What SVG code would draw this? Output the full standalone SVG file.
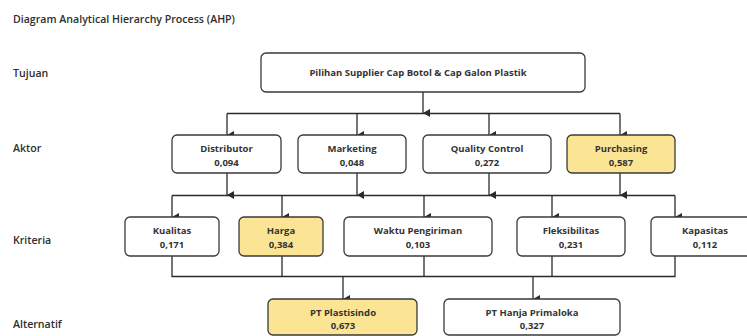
<svg xmlns="http://www.w3.org/2000/svg" width="747" height="336" viewBox="0 0 747 336">
<defs>
<marker id="ah" markerUnits="userSpaceOnUse" markerWidth="8" markerHeight="8" viewBox="0 0 8 8" refX="4" refY="8" orient="auto-start-reverse">
<path d="M0,1 L8,1 L4,8 Z" fill="#2b2b2b"/>
</marker>
<style>
.bg{fill:#ffffff}
.box{fill:#ffffff;stroke:#3a3a3a;stroke-width:1.3}
.hi{fill:#fbe595}
.t{font-family:"Open Sans",Lato,"Liberation Sans",sans-serif;font-weight:700;font-size:9.5px;fill:#333333;text-anchor:middle}
.lbl{font-family:"Open Sans",Lato,"Liberation Sans",sans-serif;font-weight:600;font-size:10.6px;fill:#2e2e2e}
.ln{fill:none;stroke:#2b2b2b;stroke-width:1.3}
</style>
</defs>
<rect class="bg" x="0" y="0" width="747" height="336"/>
<text class="lbl" x="13" y="22.5">Diagram Analytical Hierarchy Process (AHP)</text>
<text class="lbl" x="13" y="77">Tujuan</text>
<text class="lbl" x="13" y="152">Aktor</text>
<text class="lbl" x="13" y="244">Kriteria</text>
<text class="lbl" x="13" y="328">Alternatif</text>

<g id="connectors">
<path class="ln" d="M423,92 V113" marker-end="url(#ah)"/>
<path class="ln" d="M227,113.5 H620"/>
<path class="ln" d="M227,113.5 V135" marker-end="url(#ah)"/>
<path class="ln" d="M357,113.5 V135" marker-end="url(#ah)"/>
<path class="ln" d="M489,113.5 V135" marker-end="url(#ah)"/>
<path class="ln" d="M620,113.5 V135" marker-end="url(#ah)"/>
<path class="ln" d="M227,173 V195" marker-end="url(#ah)"/>
<path class="ln" d="M357,173 V195" marker-end="url(#ah)"/>
<path class="ln" d="M489,173 V195" marker-end="url(#ah)"/>
<path class="ln" d="M620,173 V195" marker-end="url(#ah)"/>
<path class="ln" d="M172,195.5 H675"/>
<path class="ln" d="M172,195.5 V217" marker-end="url(#ah)"/>
<path class="ln" d="M282,195.5 V217" marker-end="url(#ah)"/>
<path class="ln" d="M424,195.5 V217" marker-end="url(#ah)"/>
<path class="ln" d="M552,195.5 V217" marker-end="url(#ah)"/>
<path class="ln" d="M675,195.5 V217" marker-end="url(#ah)"/>
<path class="ln" d="M172,256 V276.5 H675 V256"/>
<path class="ln" d="M282,256 V276.5"/>
<path class="ln" d="M424,256 V276.5"/>
<path class="ln" d="M552,256 V276.5"/>
<path class="ln" d="M343,276.5 V299" marker-end="url(#ah)"/>
<path class="ln" d="M533,276.5 V299" marker-end="url(#ah)"/>
</g>

<g id="goal">
<rect class="box" x="261" y="53" width="324" height="39" rx="5"/>
<text class="t" x="418" y="76">Pilihan Supplier Cap Botol &amp; Cap Galon Plastik</text>
</g>

<g id="distributor">
<rect class="box" x="172" y="135" width="109" height="38" rx="5"/>
<text class="t" x="226.5" y="151.5">Distributor</text>
<text class="t" x="226.5" y="165.5">0,094</text>
</g>
<g id="marketing">
<rect class="box" x="298" y="135" width="108" height="38" rx="5"/>
<text class="t" x="352" y="151.5">Marketing</text>
<text class="t" x="352" y="165.5">0,048</text>
</g>
<g id="quality-control">
<rect class="box" x="423" y="135" width="128" height="38" rx="5"/>
<text class="t" x="487" y="151.5">Quality Control</text>
<text class="t" x="487" y="165.5">0,272</text>
</g>
<g id="purchasing">
<rect class="box hi" x="567" y="135" width="108" height="38" rx="5"/>
<text class="t" x="621" y="151.5">Purchasing</text>
<text class="t" x="621" y="165.5">0,587</text>
</g>

<g id="kualitas">
<rect class="box" x="125" y="217" width="94" height="39" rx="5"/>
<text class="t" x="172" y="234">Kualitas</text>
<text class="t" x="172" y="247.5">0,171</text>
</g>
<g id="harga">
<rect class="box hi" x="239" y="217" width="84" height="39" rx="5"/>
<text class="t" x="281" y="234">Harga</text>
<text class="t" x="281" y="247.5">0,384</text>
</g>
<g id="waktu-pengiriman">
<rect class="box" x="344" y="217" width="148" height="39" rx="5"/>
<text class="t" x="418" y="234">Waktu Pengiriman</text>
<text class="t" x="418" y="247.5">0,103</text>
</g>
<g id="fleksibilitas">
<rect class="box" x="517" y="217" width="108" height="39" rx="5"/>
<text class="t" x="571" y="234">Fleksibilitas</text>
<text class="t" x="571" y="247.5">0,231</text>
</g>
<g id="kapasitas">
<rect class="box" x="651" y="217" width="109" height="39" rx="5"/>
<text class="t" x="705" y="234">Kapasitas</text>
<text class="t" x="705" y="247.5">0,112</text>
</g>

<g id="pt-plastisindo">
<rect class="box hi" x="268" y="299" width="149" height="36" rx="5"/>
<text class="t" x="343" y="315.5">PT Plastisindo</text>
<text class="t" x="343" y="329">0,673</text>
</g>
<g id="pt-hanja-primaloka">
<rect class="box" x="444" y="299" width="176" height="36" rx="5"/>
<text class="t" x="532" y="315.5">PT Hanja Primaloka</text>
<text class="t" x="532" y="329">0,327</text>
</g>
</svg>
